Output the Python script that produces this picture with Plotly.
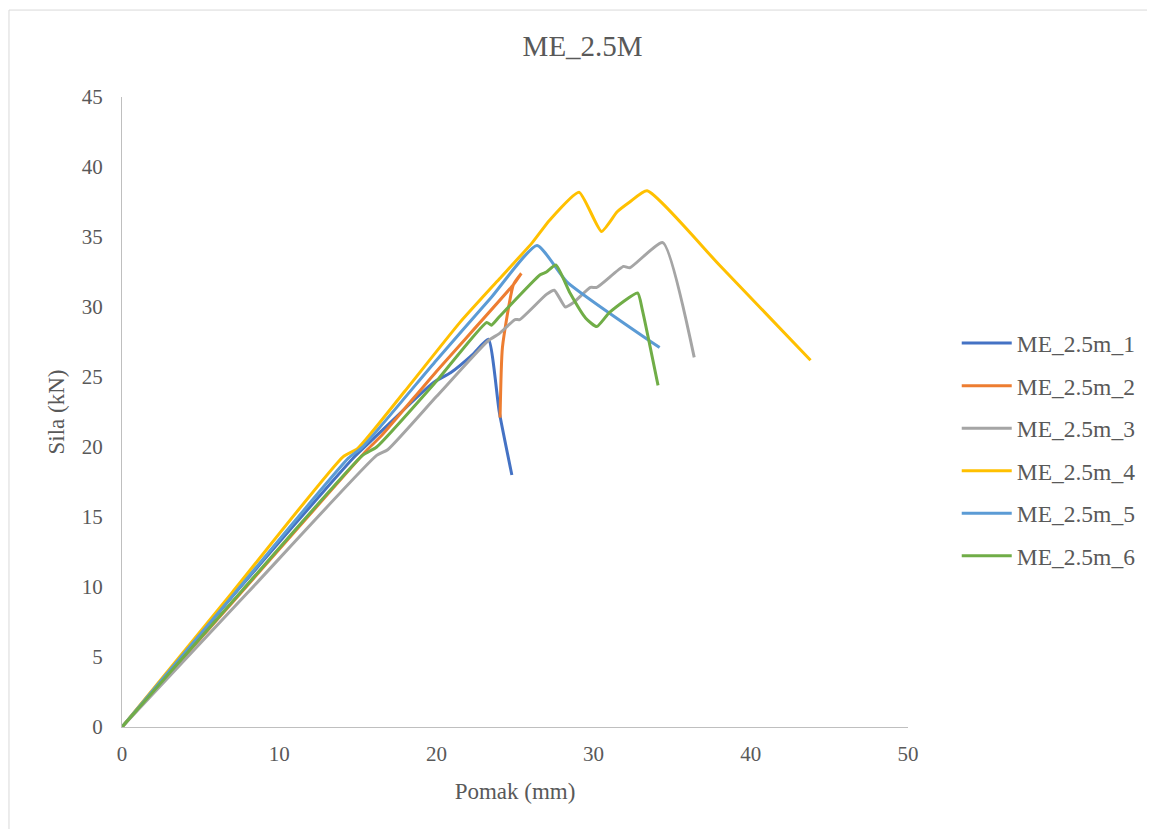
import plotly.graph_objects as go

# ---- data ----
x1 = [0, 7.0, 14.7, 16.0, 19.8, 20.9, 22.3, 23.3, 24.0, 24.8]
y1 = [0, 9.3, 19.2, 20.6, 24.6, 25.3, 26.6, 27.7, 22.5, 18.0]

x2 = [0, 7.5, 15.6, 16.5, 20.0, 24.9, 25.4, 24.9, 24.2, 24.05]
y2 = [0, 9.5, 19.8, 20.8, 25.4, 31.6, 32.4, 31.6, 27.1, 22.1]

x3 = [0, 8.0, 16.2, 16.9, 20.0, 23.3, 24.0, 25.0, 25.3, 27.0, 27.5, 28.2, 28.7, 29.8, 30.2, 31.9, 32.3, 34.4, 36.4]
y3 = [0, 9.6, 19.4, 19.8, 23.6, 27.6, 28.1, 29.1, 29.1, 30.9, 31.2, 30.0, 30.3, 31.4, 31.4, 32.9, 32.8, 34.6, 26.4]

x4 = [0, 7.0, 14.06, 15.0, 18.0, 21.5, 24.0, 26.1, 27.2, 29.07, 30.5, 31.5, 32.3, 33.4, 38.0, 43.8]
y4 = [0, 9.6, 19.3, 19.9, 24.0, 28.9, 32.0, 34.6, 36.2, 38.2, 35.4, 36.8, 37.5, 38.3, 33.0, 26.2]

x5 = [0, 7.2, 14.4, 15.3, 20.0, 23.5, 26.4, 28.3, 34.2]
y5 = [0, 9.6, 19.2, 20.0, 26.2, 30.7, 34.4, 31.8, 27.1]

x6 = [0, 7.6, 15.3, 16.2, 20.0, 23.2, 23.5, 24.0, 26.6, 27.0, 27.6, 28.5, 29.5, 30.2, 31.0, 32.8, 33.1, 34.1]
y6 = [0, 9.7, 19.4, 20.0, 24.7, 28.9, 28.7, 29.3, 32.3, 32.5, 33.0, 31.0, 29.2, 28.6, 29.6, 31.0, 29.8, 24.4]

names = ["ME_2.5m_1", "ME_2.5m_2", "ME_2.5m_3", "ME_2.5m_4", "ME_2.5m_5", "ME_2.5m_6"]
colors = ["#4472C4", "#ED7D31", "#A5A5A5", "#FFC000", "#5B9BD5", "#70AD47"]
xs = [x1, x2, x3, x4, x5, x6]
ys = [y1, y2, y3, y4, y5, y6]

x_ticks = [0, 10, 20, 30, 40, 50]
y_ticks = [0, 5, 10, 15, 20, 25, 30, 35, 40, 45]

font_family = "Liberation Serif, Times New Roman, serif"
text_color = "#595959"

fig = go.Figure()
for i, (xv, yv, n, c) in enumerate(zip(xs, ys, names, colors)):
    fig.add_trace(go.Scatter(
        x=xv, y=yv, name=n, mode="lines", legendgroup=f"g{i}",
        line=dict(color=c, width=3, shape="spline", smoothing=0.5),
    ))

# plot area target: x 122..908, y 97..727 (page has 8px body offset)
fig.update_layout(
    width=1147, height=821,
    paper_bgcolor="white", plot_bgcolor="white",
    margin=dict(l=114, r=247, t=89, b=102),
    title=dict(text="ME_2.5M", x=0.501, xanchor="center", y=0.9545, yanchor="middle",
               font=dict(family=font_family, size=29, color=text_color)),
    font=dict(family=font_family, color=text_color, size=21),
    legend=dict(x=1.062, y=0.44, xanchor="left", yanchor="middle",
                font=dict(family=font_family, size=23.5, color=text_color),
                tracegroupgap=9, itemwidth=50, borderwidth=0, bgcolor="rgba(0,0,0,0)"),
    showlegend=True,
    shapes=[dict(type="rect", xref="paper", yref="paper", x0=-0.1438, x1=1.6, y0=-0.4, y1=1.138,
                 line=dict(color="#D9D9D9", width=1), fillcolor="rgba(0,0,0,0)", layer="below")],
)
fig.update_xaxes(
    range=[0, 50], tickvals=x_ticks, ticktext=[str(v) for v in x_ticks],
    showgrid=False, zeroline=False, showline=True, linecolor="#BFBFBF", linewidth=1,
    ticks="", ticklabelstandoff=8, tickfont=dict(size=21, color=text_color),
    title=dict(text="Pomak (mm)", font=dict(size=23, color=text_color), standoff=17),
)
fig.update_yaxes(
    range=[0, 45], tickvals=y_ticks, ticktext=[str(v) for v in y_ticks],
    showgrid=False, zeroline=False, showline=True, linecolor="#BFBFBF", linewidth=1,
    ticks="", ticklabelstandoff=14, tickfont=dict(size=21, color=text_color),
    title=dict(text="Sila (kN)", font=dict(size=23, color=text_color), standoff=10),
)

fig.write_html("out.html")
